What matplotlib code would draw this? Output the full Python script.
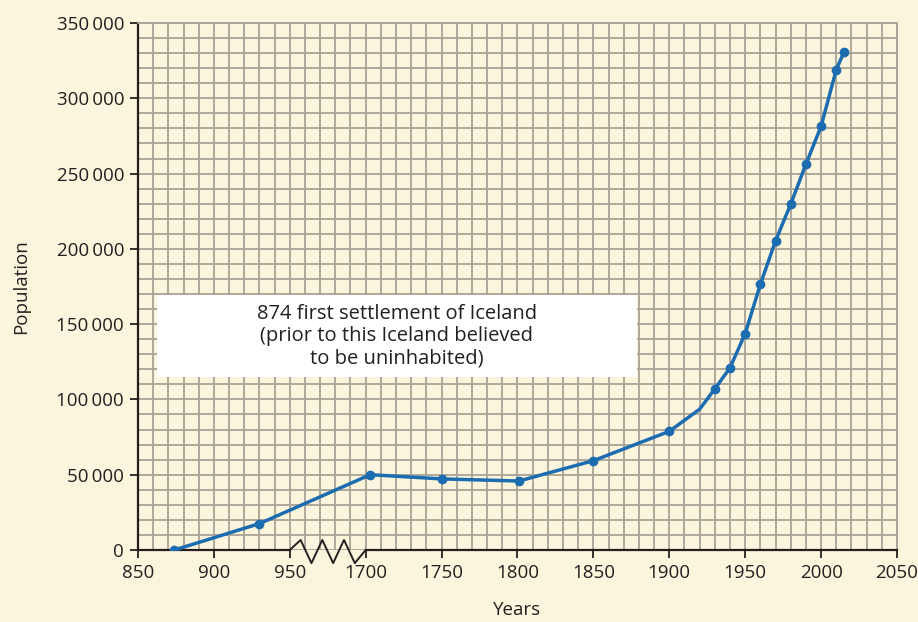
import matplotlib
matplotlib.use("Agg")
import matplotlib.pyplot as plt
import matplotlib.ticker as mticker
import numpy as np
from matplotlib.patches import Rectangle

plt.rcParams["font.family"] = ["Open Sans", "DejaVu Sans"]

# Iceland population
years = [874, 930, 1703, 1750, 1801, 1850, 1900, 1920, 1930, 1940, 1950,
         1960, 1970, 1980, 1990, 2000, 2010, 2015]
population = [0, 17500, 50000, 47200, 45800, 59300, 78800, 93500, 107000,
              121000, 143700, 176500, 205300, 229700, 256200, 281400, 319000, 330500]
has_marker = [True, True, True, True, True, True, True, False, True, True, True,
              True, True, True, True, True, True, True]

x_ticks = [850, 900, 950, 1700, 1750, 1800, 1850, 1900, 1950, 2000, 2050]
y_ticks = [0, 50000, 100000, 150000, 200000, 250000, 300000, 350000]
note = "874 first settlement of Iceland\n(prior to this Iceland believed\nto be uninhabited)"

BREAK_LO, BREAK_HI = 950, 1700
BREAK_W = 50  # the gap 950..1700 is squeezed into one 50-year step

BG = "#fcf5dd"
GRID = "#a8a297"
BLUE = "#1c6cb0"
INK = "#231f20"


def forward(x):
    x = np.asarray(x, dtype=float)
    mid = BREAK_LO + (x - BREAK_LO) * BREAK_W / (BREAK_HI - BREAK_LO)
    return np.where(x <= BREAK_LO, x, np.where(x >= BREAK_HI, x - (BREAK_HI - BREAK_LO) + BREAK_W, mid))


def inverse(u):
    u = np.asarray(u, dtype=float)
    hi = BREAK_LO + BREAK_W
    mid = BREAK_LO + (u - BREAK_LO) * (BREAK_HI - BREAK_LO) / BREAK_W
    return np.where(u <= BREAK_LO, u, np.where(u >= hi, u + (BREAK_HI - BREAK_LO) - BREAK_W, mid))


fig = plt.figure(figsize=(9.18, 6.22), dpi=100, facecolor=BG)
ax = fig.add_axes([0.1503, 0.1158, 0.8268, 0.8472])
ax.set_facecolor(BG)
ax.set_xscale("function", functions=(forward, inverse))
ax.set_xlim(850, 2050)
ax.set_ylim(0, 350000)

# paper grid every 10 years / 10 000 people
grid_u = np.arange(850, forward(2050) + 1, 10)
ax.xaxis.set_minor_locator(mticker.FixedLocator(inverse(grid_u)))
ax.yaxis.set_minor_locator(mticker.MultipleLocator(10000))
ax.xaxis.set_major_locator(mticker.FixedLocator(x_ticks))
ax.yaxis.set_major_locator(mticker.FixedLocator(y_ticks))
ax.xaxis.set_major_formatter(mticker.FuncFormatter(lambda v, p: f"{v:.0f}"))
ax.yaxis.set_major_formatter(
    mticker.FuncFormatter(lambda v, p: f"{v:,.0f}".replace(",", "\u2009")))
ax.grid(which="both", color=GRID, linewidth=1.3, zorder=0)
ax.set_axisbelow(True)
ax.tick_params(which="minor", length=0)
ax.tick_params(which="major", length=6, width=1.3, color=INK,
               labelsize=13.5, labelcolor=INK, pad=4)

for side in ("top", "right"):
    ax.spines[side].set_color(GRID)
    ax.spines[side].set_linewidth(1.3)
ax.spines["left"].set_color(INK)
ax.spines["left"].set_linewidth(1.6)
ax.spines["bottom"].set_visible(False)

# bottom axis line with a zigzag across the break
trans = ax.get_xaxis_transform()
ax.plot([850, BREAK_LO], [0, 0], color=INK, lw=1.6, transform=trans,
        clip_on=False, zorder=3)
ax.plot([BREAK_HI, 2050], [0, 0], color=INK, lw=1.6, transform=trans,
        clip_on=False, zorder=3)
zu = np.linspace(forward(BREAK_LO), forward(BREAK_HI), 8)
zy = [0, 0.019, -0.025, 0.019, -0.025, 0.019, -0.025, 0]
ax.plot(inverse(zu), zy, color=INK, lw=1.4, transform=trans,
        clip_on=False, zorder=3)

ax.plot(years, population, color=BLUE, lw=2.5, marker="o", markersize=6,
        markevery=has_marker, zorder=4)

ax.add_patch(Rectangle((0.025, 0.328), 0.632, 0.156, transform=ax.transAxes,
                       facecolor="white", edgecolor="none", zorder=2))
ax.text(0.341, 0.406, note, transform=ax.transAxes, ha="center", va="center",
        fontsize=14.5, color=INK, linespacing=1.15, zorder=3)

ax.set_xlabel("Years", fontsize=13.5, color=INK, labelpad=14)
ax.set_ylabel("Population", fontsize=13.5, color=INK, labelpad=19)

fig.savefig("out.png", dpi=100, facecolor=BG)
